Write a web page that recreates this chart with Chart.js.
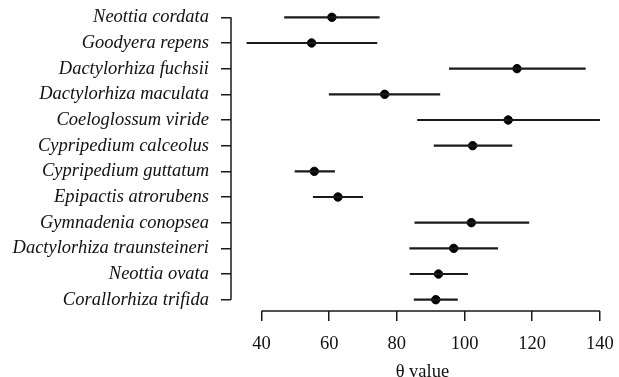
<!DOCTYPE html>
<html>
<head>
<meta charset="utf-8">
<script src="https://cdn.jsdelivr.net/npm/chart.js@4/dist/chart.umd.min.js"></script>
<style>
  html, body { margin: 0; padding: 0; background: #fff; }
  #wrap { width: 619px; height: 377px; }
</style>
</head>
<body>
<div id="wrap"><canvas id="chart"></canvas></div>
<script>
// species, top to bottom
const species = [
    'Neottia cordata', 'Goodyera repens', 'Dactylorhiza fuchsii', 'Dactylorhiza maculata',
    'Coeloglossum viride', 'Cypripedium calceolus', 'Cypripedium guttatum', 'Epipactis atrorubens',
    'Gymnadenia conopsea', 'Dactylorhiza traunsteineri', 'Neottia ovata', 'Corallorhiza trifida'
];
// theta estimate and interval
const thetaMean = [60.8, 54.8, 115.5, 76.4, 112.9, 102.4, 55.6, 62.6, 102.0, 96.8, 92.3, 91.5];
const thetaLow  = [46.8, 35.7, 95.5, 60.0, 86.1, 91.0, 49.9, 55.3, 85.3, 83.8, 83.9, 85.1];
const thetaHigh = [74.8, 74.1, 135.7, 92.7, 139.9, 114.0, 61.6, 69.9, 119.0, 109.8, 100.9, 97.9];
const xTicks = [40, 60, 80, 100, 120, 140];

const ink = '#1a1a1a';
const serif = "'Liberation Serif', 'Times New Roman', serif";

// R style axis lines: only span first to last tick
const axisLines = {
    id: 'axisLines',
    afterDraw(chart) {
        const { ctx, chartArea, scales } = chart;
        ctx.save();
        ctx.strokeStyle = ink;
        ctx.lineWidth = 1.5;
        ctx.beginPath();
        ctx.moveTo(scales.x.getPixelForValue(xTicks[0]), chartArea.bottom);
        ctx.lineTo(scales.x.getPixelForValue(xTicks[xTicks.length - 1]), chartArea.bottom);
        ctx.moveTo(chartArea.left, scales.y.getPixelForValue(0));
        ctx.lineTo(chartArea.left, scales.y.getPixelForValue(species.length - 1));
        ctx.stroke();
        ctx.restore();
    }
};

new Chart(document.getElementById('chart'), {
    type: 'scatter',
    data: {
        datasets: [
            {
                type: 'bar',
                indexAxis: 'y',
                data: species.map((s, i) => ({ y: i, x: [thetaLow[i], thetaHigh[i]] })),
                backgroundColor: ink,
                borderWidth: 0,
                barThickness: 1.5
            },
            {
                type: 'scatter',
                data: species.map((s, i) => ({ x: thetaMean[i], y: i })),
                backgroundColor: '#000',
                borderColor: '#000',
                pointRadius: 4.2,
                pointHoverRadius: 4.2
            }
        ]
    },
    plugins: [axisLines],
    options: {
        responsive: true,
        maintainAspectRatio: false,
        animation: false,
        layout: { padding: { top: 6, right: 3, left: 0, bottom: 0 } },
        plugins: { legend: { display: false }, tooltip: { enabled: false } },
        scales: {
            x: {
                type: 'linear',
                offset: false,
                min: 30.99,
                max: 144.1,
                afterBuildTicks: scale => { scale.ticks = xTicks.map(v => ({ value: v })); },
                afterFit: scale => { scale.height = 66; scale.paddingLeft = 0; scale.paddingRight = 0; },
                border: { display: false },
                grid: { offset: false, drawOnChartArea: false, drawTicks: true, tickLength: 10, color: ink, lineWidth: 1.5 },
                ticks: { color: '#111', font: { family: serif, size: 18.5 }, padding: 12, maxRotation: 0, autoSkip: false },
                title: { display: true, text: 'θ value', color: '#111', font: { family: serif, size: 18.5 }, padding: { top: 0, bottom: -6 } }
            },
            y: {
                type: 'linear',
                offset: false,
                reverse: true,
                min: -0.44,
                max: 11.44,
                afterBuildTicks: scale => { scale.ticks = species.map((s, i) => ({ value: i })); },
                afterFit: scale => { scale.width = 231; scale.paddingTop = 0; scale.paddingBottom = 0; },
                border: { display: false },
                grid: { offset: false, drawOnChartArea: false, drawTicks: true, tickLength: 10, color: ink, lineWidth: 1.5 },
                ticks: {
                    color: '#111',
                    font: { family: serif, size: 18.5, style: 'italic' },
                    padding: 12,
                    autoSkip: false,
                    callback: v => species[v]
                }
            }
        }
    }
});
</script>
</body>
</html>
